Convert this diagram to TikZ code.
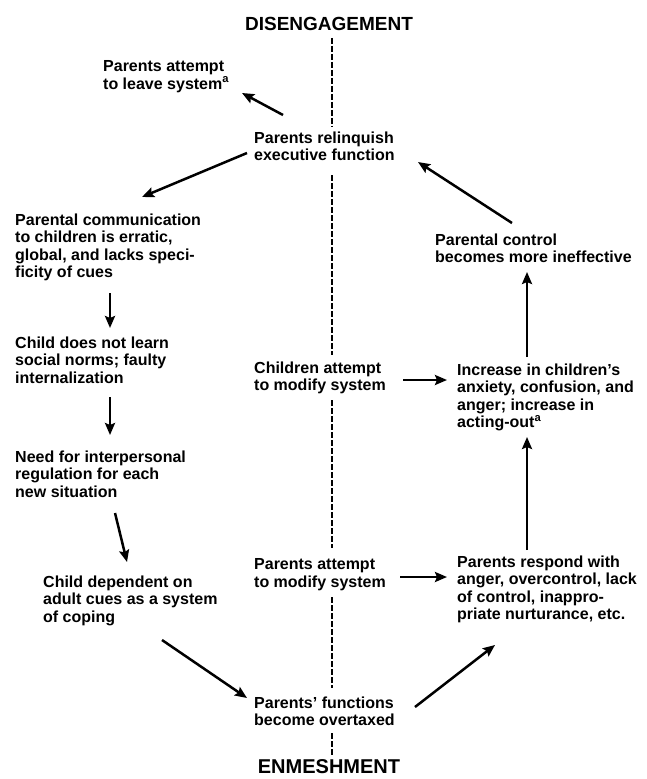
\documentclass[tikz,border=0pt]{standalone}
\usepackage{fontspec}
\setmainfont{Liberation Sans}
\usetikzlibrary{arrows.meta}
\begin{document}
\begin{tikzpicture}[x=1pt,y=-1pt,
  txt/.style={anchor=north west,inner sep=0pt,align=left,font=\fontsize{16}{17.5}\selectfont\bfseries},
  head/.style={inner sep=0pt,font=\fontsize{19}{22}\selectfont\bfseries},
  arr/.style={line width=2.5pt,-{Stealth[length=12pt,width=10pt,inset=2pt]}},
  spine/.style={line width=2.3pt,dash pattern=on 6pt off 2pt}]
\useasboundingbox[fill=white] (0,0) rectangle (646,779);

\node[head] (dis) at (329,24) {DISENGAGEMENT};
\node[head,font=\fontsize{20}{22}\selectfont\bfseries] (enm) at (329,767) {ENMESHMENT};

\node[txt] (leave) at (103,60.5) {Parents attempt\\to leave system\textsuperscript{a}};
\node[txt] (rel) at (254,131.5) {Parents relinquish\\executive function};
\node[txt] (comm) at (15,213.5) {Parental communication\\to children is erratic,\\global, and lacks speci-\\ficity of cues};
\node[txt] (learn) at (15,336.5) {Child does not learn\\social norms; faulty\\internalization};
\node[txt] (need) at (15,450.5) {Need for interpersonal\\regulation for each\\new situation};
\node[txt] (dep) at (43,575.5) {Child dependent on\\adult cues as a system\\of coping};
\node[txt] (over) at (254,696.5) {Parents' functions\\become overtaxed};
\node[txt] (patt) at (254,558.5) {Parents attempt\\to modify system};
\node[txt] (catt) at (254,361.5) {Children attempt\\to modify system};
\node[txt] (ctrl) at (435,233.5) {Parental control\\becomes more ineffective};
\node[txt] (incr) at (457,363.5) {Increase in children's\\anxiety, confusion, and\\anger; increase in\\acting-out\textsuperscript{a}};
\node[txt] (resp) at (457,555.5) {Parents respond with\\anger, overcontrol, lack\\of control, inappro-\\priate nurturance, etc.};

% central dashed spine
\draw[spine] ([shift={(3,7)}]dis.south) -- ([shift={(78,-4.5)}]rel.north west);
\draw[spine] ([shift={(78,43.5)}]rel.north west) -- ([shift={(78,-6.5)}]catt.north west);
\draw[spine] ([shift={(78,38.5)}]catt.north west) -- ([shift={(78,-10.5)}]patt.north west);
\draw[spine] ([shift={(78,38.5)}]patt.north west) -- ([shift={(78,-8.5)}]over.north west);
\draw[spine] ([shift={(78,36.5)}]over.north west) -- ([shift={(3,-5)}]enm.north);

% arrows
\draw[arr] ([shift={(29,-16.5)}]rel.north west) -- ([shift={(139,32.5)}]leave.north west);
\draw[arr] ([shift={(-7,21.5)}]rel.north west) -- ([shift={(127,-16.5)}]comm.north west);
\draw[arr] ([shift={(95,79.5)}]comm.north west) -- ([shift={(95,-8.5)}]learn.north west);
\draw[arr] ([shift={(95,60.5)}]learn.north west) -- ([shift={(95,-15.5)}]need.north west);
\draw[arr] ([shift={(100,62.5)}]need.north west) -- ([shift={(84,-13.5)}]dep.north west);
\draw[arr] ([shift={(119,64.5)}]dep.north west) -- ([shift={(-7,1.5)}]over.north west);
\draw[arr] ([shift={(161,10.5)}]over.north west) -- ([shift={(38,89.5)}]resp.north west);
\draw[arr] ([shift={(149,18.5)}]catt.north west) -- ([shift={(-10,16.5)}]incr.north west);
\draw[arr] ([shift={(146,18.5)}]patt.north west) -- ([shift={(-10,21.5)}]resp.north west);
\draw[arr] ([shift={(70,-5.5)}]resp.north west) -- ([shift={(70,73.5)}]incr.north west);
\draw[arr] ([shift={(70,-6.5)}]incr.north west) -- ([shift={(92,38.5)}]ctrl.north west);
\draw[arr] ([shift={(77,-10.5)}]ctrl.north west) -- ([shift={(164,30.5)}]rel.north west);
\end{tikzpicture}
\end{document}
